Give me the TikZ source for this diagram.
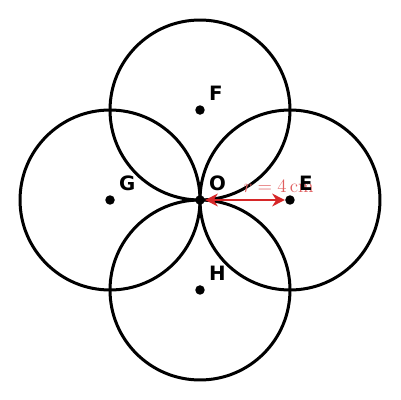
\documentclass[tikz,border=0pt]{standalone}
\usepackage{fontspec}
\newfontfamily\labelfont{DejaVu Sans Bold}
\usetikzlibrary{arrows.meta}

\definecolor{radiusred}{RGB}{214,39,40}

\begin{document}
\begin{tikzpicture}[>={Stealth[length=8pt,width=8pt,inset=2.5pt]},scale=0.5,
    dot/.style={circle,fill,inner sep=0pt,minimum size=6pt},
    ptlabel/.style={font=\labelfont\fontsize{12.5}{14}\selectfont}]
      \useasboundingbox (-8.89,-8.89) rectangle (8.89,8.89);
      \foreach \c in {(0,4),(-4,0),(4,0),(0,-4)}
        \draw[line width=1.9pt] \c circle (4);
      \node[dot,label={[ptlabel]above right:F}] (F) at (0,4) {};
      \node[dot,label={[ptlabel]above right:G}] (G) at (-4,0) {};
      \node[dot,label={[ptlabel]above right:O}] (O) at (0,0) {};
      \node[dot,label={[ptlabel]above right:H}] (H) at (0,-4) {};
      \node[dot] (E) at (4,0) {};
      \draw[<->,radiusred,line width=1.8pt] (O) -- (E);
      \path (O) -- (E) node[pos=1,above,xshift=-4pt,yshift=1pt,text=radiusred!75,font=\fontsize{12}{14}\selectfont] (rlabel) {$r=4\,\mathrm{cm}$};
      \node[ptlabel,anchor=south west] (Elabel) at (E.north east) {E};
   \end{tikzpicture}
\end{document}
